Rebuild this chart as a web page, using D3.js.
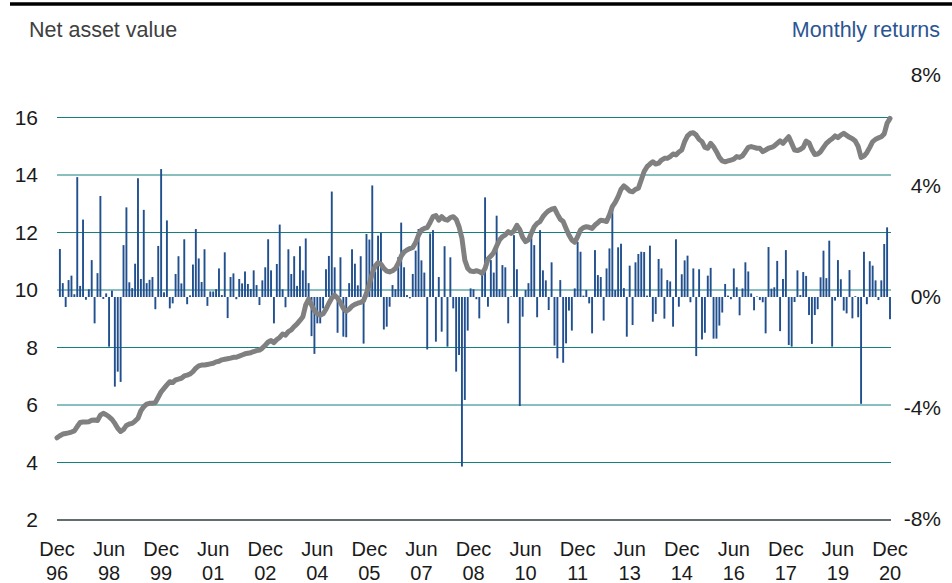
<!DOCTYPE html>
<html>
<head>
    <title>NAV and monthly returns</title>
    <script src="https://d3js.org/d3.v7.min.js"></script>
</head>

<style type="text/css">
    body {
        margin: 0;
        background: #fff;
    }
    text {
        font-family: "Liberation Sans", Arial, sans-serif;
    }
</style>

<body>
    <div id='chart'></div>

    <script type="text/javascript">
        // x tick labels, every 18 months from Dec 96
        var tickMonths = ['Dec','Jun','Dec','Jun','Dec','Jun','Dec','Jun','Dec','Jun','Dec','Jun','Dec','Jun','Dec','Jun','Dec'];
        var tickYears = ['96','98','99','01','02','04','05','07','08','10','11','13','14','16','17','19','20'];

        var navTicks = [2,4,6,8,10,12,14,16];
        var retTicks = [-8,-4,0,4,8];

        // monthly returns in %, Jan 97 .. Dec 20
        var monthlyReturns = [
            1.73,0.5,-0.36,0.61,0.77,0.1,4.32,0.4,2.79,-0.1,0.28,1.33,
            -0.95,0.86,3.64,-0.07,0.13,-1.79,0.23,-3.23,-2.69,-3.06,1.87,3.23,
            0.53,0.32,1.2,4.28,0.65,3.14,0.5,0.62,0.72,-0.44,1.84,4.61,
            0.17,2.76,-0.41,-0.23,0.83,1.47,0.49,2.08,-0.26,0.06,1.17,2.45,
            1.39,0.54,1.72,-0.32,0.2,0.2,0.28,1.03,0.07,1.61,-0.76,0.72,
            0.85,-0.08,0.65,0.49,0.92,0.47,0.29,0.96,0.43,-0.29,0.6,1.07,
            2.08,0.96,-0.95,1.19,2.61,0.28,-0.37,1.72,0.83,1.47,0.4,1.83,
            0.96,2.11,0.5,-1.41,-2.05,-0.95,-0.95,-0.41,1.0,1.48,3.8,1.07,
            -1.29,1.43,-1.43,-1.45,0.5,1.72,1.2,0.42,1.47,-1.68,2.27,2.07,
            4.02,0.92,2.21,2.31,-1.17,-1.07,-0.35,0.43,0.28,1.44,2.68,1.07,
            0.07,-0.05,0.83,1.67,2.45,1.32,0.88,-1.89,2.29,2.41,-1.61,0.72,
            -1.25,1.83,-1.79,1.43,-0.41,-2.69,-2.09,-6.11,-3.71,-1.21,0.31,0.28,
            -0.08,-0.77,0.85,3.59,-0.35,1.33,0.88,2.93,0.28,1.15,1.07,-0.95,
            0.02,2.23,1.0,-3.93,-0.71,0.25,0.5,2.23,1.87,-0.73,2.41,0.96,
            0.6,-0.47,1.25,-1.75,-2.21,0.61,-2.37,-1.67,-0.49,-1.21,0.31,1.99,
            1.63,0.05,0.25,-0.23,-1.31,1.69,0.79,0.72,-0.85,1.03,1.75,3.14,
            0.25,1.79,1.92,0.32,-1.43,1.13,-1.01,1.25,1.55,1.63,1.62,0.05,
            1.85,-0.89,-0.61,1.37,1.03,-0.78,0.61,0.56,-1.07,2.08,-0.35,0.82,
            1.32,1.49,-0.19,1.03,-2.13,1.0,-1.53,-1.29,0.77,1.05,-1.5,-1.5,
            -1.03,-0.56,0.47,0.05,-0.08,1.03,0.35,-0.66,0.31,1.25,0.92,0.13,
            -0.48,0.02,-0.11,-0.19,-1.31,1.8,0.3,0.35,1.3,-1.23,0.65,1.69,
            -1.73,-1.79,-0.18,0.96,0.07,0.9,0.76,-0.65,-1.69,-0.65,-0.44,0.71,
            1.67,0.68,2.03,-1.79,-0.13,1.33,0.64,-0.49,-0.59,0.97,-0.77,0.03,
            -0.73,-3.85,1.63,-0.26,1.29,1.13,0.6,-0.11,0.6,1.91,2.51,-0.8
        ];

        // net asset value, Dec 96 .. Dec 20
        var netAssetValue = [
            4.86,
            4.93,4.99,5.01,5.03,5.06,5.10,5.25,5.39,5.41,5.41,5.42,5.47,
            5.48,5.46,5.65,5.71,5.66,5.59,5.50,5.36,5.19,5.08,5.15,5.29,
            5.34,5.36,5.44,5.54,5.80,5.94,6.03,6.06,6.06,6.08,6.27,6.46,
            6.58,6.70,6.81,6.78,6.87,6.90,6.93,7.01,7.04,7.08,7.16,7.28,
            7.36,7.39,7.39,7.41,7.43,7.45,7.50,7.52,7.57,7.59,7.61,7.63,
            7.66,7.66,7.70,7.74,7.78,7.80,7.82,7.86,7.89,7.91,7.98,8.08,
            8.19,8.24,8.17,8.28,8.35,8.47,8.43,8.55,8.61,8.73,8.82,8.94,
            9.07,9.48,9.68,9.48,9.28,9.17,9.12,9.17,9.33,9.54,9.72,9.82,
            9.72,9.56,9.36,9.26,9.33,9.44,9.50,9.54,9.57,9.63,9.89,10.21,
            10.58,10.83,10.95,10.90,10.75,10.66,10.63,10.67,10.75,10.93,11.18,11.32,
            11.39,11.44,11.48,11.65,11.91,12.09,12.14,12.17,12.35,12.55,12.59,12.43,
            12.55,12.46,12.43,12.52,12.55,12.46,12.20,11.80,11.04,10.75,10.66,10.64,
            10.67,10.64,10.58,10.75,11.08,11.18,11.30,11.53,11.74,11.86,11.92,12.03,
            11.97,12.06,12.25,12.10,11.83,11.68,11.74,11.97,12.20,12.32,12.38,12.55,
            12.67,12.76,12.81,12.84,12.64,12.46,12.38,12.14,11.91,11.74,11.66,11.86,
            12.09,12.17,12.20,12.18,12.14,12.26,12.34,12.43,12.41,12.38,12.61,12.90,
            13.05,13.25,13.50,13.62,13.54,13.44,13.42,13.50,13.54,13.83,14.12,14.29,
            14.38,14.46,14.38,14.41,14.52,14.58,14.58,14.64,14.73,14.70,14.80,14.87,
            15.16,15.36,15.45,15.47,15.39,15.24,15.16,14.96,14.93,15.10,14.98,14.81,
            14.61,14.49,14.46,14.49,14.52,14.55,14.64,14.61,14.67,14.81,14.96,14.99,
            14.96,14.93,14.93,14.81,14.87,14.93,14.96,15.01,15.10,15.19,15.10,15.22,
            15.33,15.10,14.87,14.85,14.89,14.96,15.18,15.12,14.89,14.71,14.73,14.81,
            14.96,15.10,15.19,15.26,15.36,15.30,15.39,15.45,15.38,15.31,15.26,15.18,
            14.99,14.61,14.66,14.78,14.96,15.16,15.24,15.29,15.33,15.43,15.80,15.97
        ];

        var width = 952;
        var height = 583;

        var svg = d3.select('#chart').append('svg')
            .attr('width', width)
            .attr('height', height);

        // scales
        var x = d3.scaleLinear()
            .domain([0, netAssetValue.length - 1])
            .range([57, 890]);

        var yNav = d3.scaleLinear()
            .domain([2, 16])
            .range([520, 117.5]);

        var yRet = d3.scaleLinear()
            .domain([-8, 8])
            .range([519, 75]);

        // black rule on top
        svg.append('line')
            .attr('x1', 10).attr('x2', width)
            .attr('y1', 4).attr('y2', 4)
            .style('stroke', '#000')
            .style('stroke-width', 3.5);

        // titles
        svg.append('text')
            .attr('x', 29).attr('y', 37)
            .style('font-size', '21.5px')
            .style('fill', '#404040')
            .text('Net asset value');

        svg.append('text')
            .attr('x', 940).attr('y', 37)
            .attr('text-anchor', 'end')
            .style('font-size', '21.5px')
            .style('fill', '#2b5592')
            .text('Monthly returns');

        // gridlines from the left axis
        svg.append('g').selectAll('line')
            .data(navTicks.filter(function(d){ return d > 2; }))
            .enter().append('line')
                .attr('x1', 57).attr('x2', 891)
                .attr('y1', function(d){ return yNav(d); })
                .attr('y2', function(d){ return yNav(d); })
                .style('stroke', '#13807e')
                .style('stroke-width', 1);

        // bottom axis line
        svg.append('line')
            .attr('x1', 57).attr('x2', 891)
            .attr('y1', yNav(2)).attr('y2', yNav(2))
            .style('stroke', '#2e3d3d')
            .style('stroke-width', 1.6);

        // left tick labels
        svg.append('g').selectAll('text')
            .data(navTicks)
            .enter().append('text')
                .attr('x', 38)
                .attr('y', function(d){ return yNav(d); })
                .attr('dy', '0.35em')
                .attr('text-anchor', 'end')
                .style('font-size', '21px')
                .style('fill', '#1a1a1a')
                .text(function(d){ return d; });

        // right tick labels
        svg.append('g').selectAll('text')
            .data(retTicks)
            .enter().append('text')
                .attr('x', 941)
                .attr('y', function(d){ return yRet(d); })
                .attr('dy', '0.35em')
                .attr('text-anchor', 'end')
                .style('font-size', '21px')
                .style('fill', '#1a1a1a')
                .text(function(d){ return d + '%'; });

        // x labels, two lines each
        var xTicks = svg.append('g').selectAll('g')
            .data(tickMonths)
            .enter().append('g')
                .attr('transform', function(d, i){ return 'translate(' + x(i * 18) + ',0)'; });

        xTicks.append('text')
            .attr('y', 556)
            .attr('text-anchor', 'middle')
            .style('font-size', '20px')
            .style('fill', '#1a1a1a')
            .text(function(d){ return d; });

        xTicks.append('text')
            .attr('y', 580)
            .attr('text-anchor', 'middle')
            .style('font-size', '20px')
            .style('fill', '#1a1a1a')
            .text(function(d, i){ return tickYears[i]; });

        // monthly return bars (start one month after Dec 96)
        var barWidth = 1.9;
        svg.append('g').selectAll('rect')
            .data(monthlyReturns)
            .enter().append('rect')
                .attr('x', function(d, i){ return x(i + 1) - barWidth / 2; })
                .attr('y', function(d){ return yRet(Math.max(0, d)); })
                .attr('width', barWidth)
                .attr('height', function(d){ return Math.abs(yRet(d) - yRet(0)); })
                .style('fill', '#22508f');

        // NAV line
        var line = d3.line()
            .x(function(d, i){ return x(i); })
            .y(function(d){ return yNav(d); });

        svg.append('path')
            .datum(netAssetValue)
            .attr('d', line)
            .style('fill', 'none')
            .style('stroke', '#808080')
            .style('stroke-width', 5)
            .style('stroke-linejoin', 'round')
            .style('stroke-linecap', 'round');
    </script>
</body>
</html>
